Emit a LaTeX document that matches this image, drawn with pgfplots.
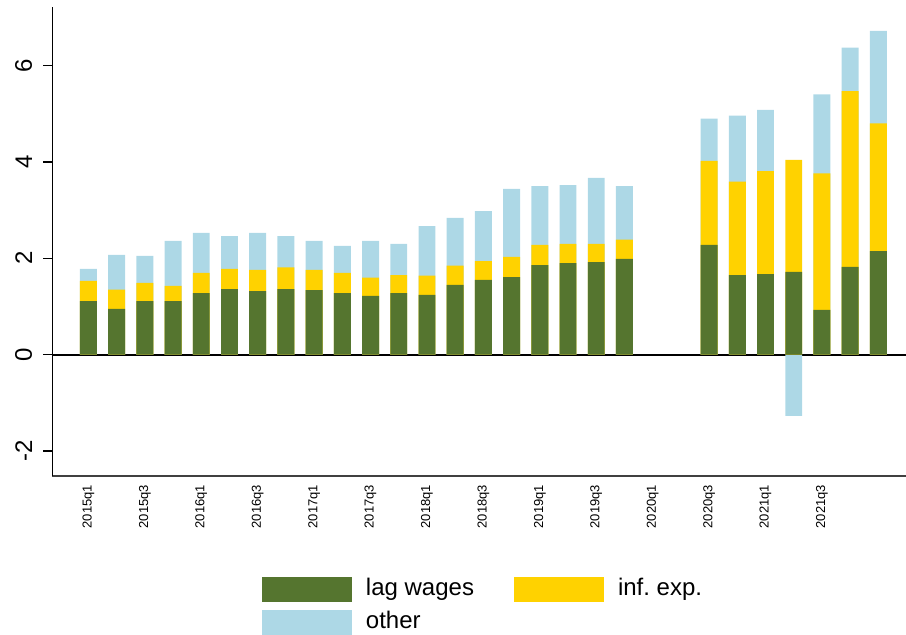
\documentclass[border=0pt]{standalone}
\usepackage{pgfplots}
\pgfplotsset{compat=1.18}
\usepackage{pgfplotstable}
\usepackage{fontspec}
\setmainfont{Liberation Sans}
\definecolor{lagc}{RGB}{85,117,47}
\definecolor{infc}{RGB}{255,210,0}
\definecolor{othc}{RGB}{173,216,230}

% idx: quarter index (0 = 2015q1); lag = lag wages; linf = lag wages + inf. exp.; tot = top of "other" (negative: other drawn from 0)
\pgfplotstableread{
idx lag linf tot
0 1.11 1.53 1.78
1 0.95 1.35 2.07
2 1.11 1.49 2.05
3 1.11 1.43 2.36
4 1.28 1.70 2.53
5 1.36 1.78 2.46
6 1.32 1.76 2.53
7 1.36 1.81 2.46
8 1.34 1.76 2.36
9 1.28 1.70 2.26
10 1.22 1.60 2.36
11 1.28 1.65 2.30
12 1.24 1.64 2.67
13 1.45 1.85 2.84
14 1.55 1.94 2.98
15 1.61 2.03 3.44
16 1.86 2.28 3.50
17 1.90 2.30 3.52
18 1.92 2.30 3.67
19 1.99 2.39 3.50
22 2.28 4.02 4.90
23 1.65 3.59 4.96
24 1.67 3.81 5.08
25 1.72 4.04 -1.27
26 0.93 3.76 5.40
27 1.82 5.47 6.37
28 2.15 4.80 6.72
}\data

\begin{document}
\frenchspacing
\begin{tikzpicture}
\useasboundingbox (0,0) rectangle (906bp,635bp);
\begin{axis}[
  at={(52.3bp,159.3bp)}, anchor=south west,
  scale only axis, width=853.7bp, height=469bp,
  xmin=-1.28, xmax=28.98, ymin=-2.51, ymax=7.22,
  axis x line*=bottom, axis y line*=left,
  x axis line style={line width=2bp, black!75, -},
  y axis line style={line width=1.3bp, black, -},
  xtick={0,2,...,26},
  xticklabels={2015q1,2015q3,2016q1,2016q3,2017q1,2017q3,2018q1,2018q3,2019q1,2019q3,2020q1,2020q3,2021q1,2021q3},
  xtick style={draw=none},
  xticklabel style={rotate=90, anchor=east, inner sep=0pt, font=\fontsize{13bp}{15bp}\selectfont},
  ytick={-2,0,2,4,6},
  yticklabels={-2,0,2,4,6},
  ytick style={black, line width=1.3bp},
  tick align=outside,
  major tick length=9bp,
  yticklabel style={rotate=90, anchor=south, inner sep=0pt, font=\fontsize{24bp}{28bp}\selectfont, yshift=11bp},
  legend columns=2,
  legend cell align=left,
  legend image code/.code={\fill[#1] (0bp,-12.5bp) rectangle (90bp,12.5bp);},
  legend style={at={(0.2456,-0.216)}, anchor=north west, draw=none, fill=none,
    inner sep=0pt, outer sep=0pt, row sep=8bp,
    font=\fontsize{24bp}{28bp}\selectfont,
    nodes={inner sep=0pt, text height=17bp, text depth=5bp},
    /tikz/every odd column/.append style={column sep=14bp},
    /tikz/every even column/.append style={column sep=40bp}},
]
\addplot[black, line width=1.8bp, forget plot] coordinates {(-1.28,0) (28.98,0)};
\addplot[ybar, bar width=0.6, bar shift=0pt, fill=othc, draw=none, forget plot] table[x=idx, y=tot]{\data};
\addplot[ybar, bar width=0.6, bar shift=0pt, fill=infc, draw=none, forget plot] table[x=idx, y=linf]{\data};
\addplot[ybar, bar width=0.6, bar shift=0pt, fill=lagc, draw=none, forget plot] table[x=idx, y=lag]{\data};
\addlegendimage{fill=lagc, draw=none}
\addlegendentry{lag wages}
\addlegendimage{fill=infc, draw=none}
\addlegendentry{inf. exp.}
\addlegendimage{fill=othc, draw=none}
\addlegendentry{other}
\end{axis}
\end{tikzpicture}
\end{document}
